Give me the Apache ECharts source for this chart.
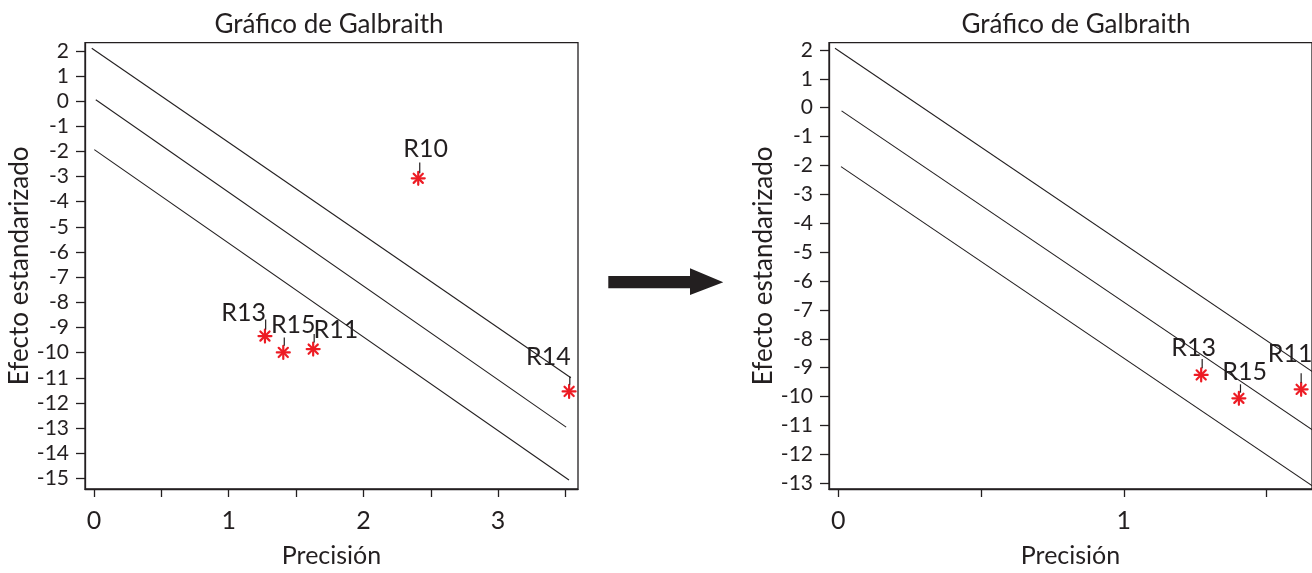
<!DOCTYPE html>
<html>
<head>
<meta charset="utf-8">
<script src="https://cdn.jsdelivr.net/npm/echarts@6/dist/echarts.min.js"></script>
<style>
html,body{margin:0;padding:0;background:#ffffff;}
#chart{width:1312px;height:573px;}
</style>
</head>
<body>
<div id="chart"></div>
<script>
// ---------- DATA ----------
const chartTitle = 'Gráfico de Galbraith';
const xAxisName = 'Precisión';
const yAxisName = 'Efecto estandarizado';

// Left chart
const namesLeft = ['R10', 'R13', 'R15', 'R11', 'R14'];
const precisionLeft = [2.407, 1.269, 1.405, 1.627, 3.527];
const effectLeft = [-3.07, -9.34, -9.99, -9.86, -11.54];
const upperLineLeft = [[-0.017, 2.10], [3.54, -11.0]];
const middleLineLeft = [[0.013, 0.05], [3.505, -12.96]];
const lowerLineLeft = [[0.002, -1.93], [3.526, -15.06]];
const xTicksLeft = [0, 0.5, 1, 1.5, 2, 2.5, 3, 3.5];
const xLabelsLeft = [0, 1, 2, 3];
const yTicksLeft = [2, 1, 0, -1, -2, -3, -4, -5, -6, -7, -8, -9, -10, -11, -12, -13, -14, -15];
const xRangeLeft = [-0.067, 3.593];
const yRangeLeft = [-15.42, 2.32];

// Right chart
const namesRight = ['R13', 'R15', 'R11'];
const precisionRight = [1.271, 1.403, 1.621];
const effectRight = [-9.25, -10.06, -9.75];
const upperLineRight = [[-0.011, 2.06], [1.70, -9.40]];
const middleLineRight = [[0.012, -0.11], [1.70, -11.42]];
const lowerLineRight = [[0.010, -2.04], [1.70, -13.36]];
const xTicksRight = [0, 0.5, 1, 1.5];
const xLabelsRight = [0, 1];
const yTicksRight = [2, 1, 0, -1, -2, -3, -4, -5, -6, -7, -8, -9, -10, -11, -12, -13];
const xRangeRight = [-0.032, 1.659];
const yRangeRight = [-13.20, 2.25];

// ---------- LABEL PLACEMENT (pixel offsets from each point) ----------
const labelPlacement = {
  left: {
    R10: {tx: 7.4, ty: -29, lx: 1.5, l1: -15.7, l2: -5},
    R13: {tx: -21.3, ty: -23, lx: 0.7, l1: -16.6, l2: -6.6},
    R15: {tx: 10, ty: -27.3, lx: 1, l1: -15, l2: -6.7},
    R11: {tx: 22.7, ty: -19, lx: 1, l1: -15, l2: -6.7},
    R14: {tx: -20.7, ty: -34, lx: 0.7, l1: -15, l2: -6.7}
  },
  right: {
    R13: {tx: -7.5, ty: -27.3, lx: 1, l1: -16, l2: -6.7},
    R15: {tx: 5.8, ty: -26.3, lx: 1.6, l1: -14, l2: -5.6},
    R11: {tx: -11, ty: -35.3, lx: 0, l1: -16, l2: -6.7}
  }
};

// ---------- STYLE ----------
const INK = '#231f20';
const RED = '#ed1c24';
const FONT = 'Lato, "Open Sans", sans-serif';

function zip(xs, ys) { return xs.map((x, i) => [x, ys[i]]); }

function makePointRenderer(side, names) {
  return function (params, api) {
    const p = api.coord([api.value(0), api.value(1)]);
    const name = names[params.dataIndex];
    const pl = labelPlacement[side][name];
    const r = 6.5;
    const children = [];
    [0, 45, 90, 135].forEach(function (deg) {
      const a = deg * Math.PI / 180;
      const dx = r * Math.cos(a), dy = r * Math.sin(a);
      children.push({
        type: 'line',
        shape: {x1: p[0] - dx, y1: p[1] - dy, x2: p[0] + dx, y2: p[1] + dy},
        style: {stroke: RED, lineWidth: 2.2, lineCap: 'round'}
      });
    });
    children.push({
      type: 'line',
      shape: {x1: p[0] + pl.lx, y1: p[1] + pl.l1, x2: p[0] + pl.lx, y2: p[1] + pl.l2},
      style: {stroke: INK, lineWidth: 1.2}
    });
    children.push({
      type: 'text',
      x: p[0] + pl.tx,
      y: p[1] + pl.ty,
      style: {text: name, fill: INK, font: '25px ' + FONT, align: 'center', verticalAlign: 'middle'}
    });
    return {type: 'group', children: children};
  };
}

function xAxisCfg(gridIndex, range, ticks, labels) {
  return {
    type: 'value', gridIndex: gridIndex, min: range[0], max: range[1],
    name: xAxisName, nameLocation: 'middle', nameGap: 54,
    nameTextStyle: {color: INK, fontSize: 25, fontFamily: FONT},
    axisLine: {show: true, onZero: false, lineStyle: {color: INK, width: 1.3}},
    axisTick: {show: true, inside: false, length: 8, customValues: ticks, lineStyle: {color: INK, width: 1.3}},
    axisLabel: {show: true, margin: 19, customValues: labels, color: INK, fontSize: 25, fontFamily: FONT},
    splitLine: {show: false}
  };
}

function yAxisCfg(gridIndex, range, ticks, gap) {
  return {
    type: 'value', gridIndex: gridIndex, min: range[0], max: range[1],
    name: yAxisName, nameLocation: 'middle', nameGap: gap,
    nameTextStyle: {color: INK, fontSize: 26, fontFamily: FONT},
    axisLine: {show: true, onZero: false, lineStyle: {color: INK, width: 1.3}},
    axisTick: {show: true, inside: false, length: 9, customValues: ticks, lineStyle: {color: INK, width: 1.3}},
    axisLabel: {show: true, margin: 16, customValues: ticks, color: INK, fontSize: 21, fontFamily: FONT},
    splitLine: {show: false}
  };
}

function bandLine(idx, data) {
  return {
    type: 'line', xAxisIndex: idx, yAxisIndex: idx, data: data,
    showSymbol: false, symbol: 'none', silent: true, clip: true,
    lineStyle: {color: INK, width: 1.1}
  };
}

const chart = echarts.init(document.getElementById('chart'), null, {renderer: 'canvas'});
chart.setOption({
  animation: false,
  backgroundColor: '#ffffff',
  grid: [
    {left: 85, top: 42.7, width: 493, height: 457.3, show: true, borderColor: INK, borderWidth: 1.3, backgroundColor: 'transparent'},
    {left: 829, top: 42.7, width: 492, height: 457.3, show: true, borderColor: INK, borderWidth: 1.3, backgroundColor: 'transparent'}
  ],
  xAxis: [
    xAxisCfg(0, xRangeLeft, xTicksLeft, xLabelsLeft),
    xAxisCfg(1, xRangeRight, xTicksRight, xLabelsRight)
  ],
  yAxis: [
    yAxisCfg(0, yRangeLeft, yTicksLeft, 49),
    yAxisCfg(1, yRangeRight, yTicksRight, 46)
  ],
  graphic: [
    {type: 'text', x: 329, y: 24.5, style: {text: chartTitle, fill: INK, font: '26px ' + FONT, align: 'center', verticalAlign: 'middle'}},
    {type: 'text', x: 1076, y: 24.5, style: {text: chartTitle, fill: INK, font: '26px ' + FONT, align: 'center', verticalAlign: 'middle'}},
    {type: 'polygon', shape: {points: [[608.3, 276], [690, 276], [690, 268.3], [723.3, 282.3], [690, 295], [690, 288.3], [608.3, 288.3]]}, style: {fill: INK}}
  ],
  series: [
    bandLine(0, upperLineLeft),
    bandLine(0, middleLineLeft),
    bandLine(0, lowerLineLeft),
    bandLine(1, upperLineRight),
    bandLine(1, middleLineRight),
    bandLine(1, lowerLineRight),
    {
      type: 'custom', xAxisIndex: 0, yAxisIndex: 0, clip: false,
      data: zip(precisionLeft, effectLeft),
      renderItem: makePointRenderer('left', namesLeft)
    },
    {
      type: 'custom', xAxisIndex: 1, yAxisIndex: 1, clip: false,
      data: zip(precisionRight, effectRight),
      renderItem: makePointRenderer('right', namesRight)
    }
  ]
});
</script>
</body>
</html>
